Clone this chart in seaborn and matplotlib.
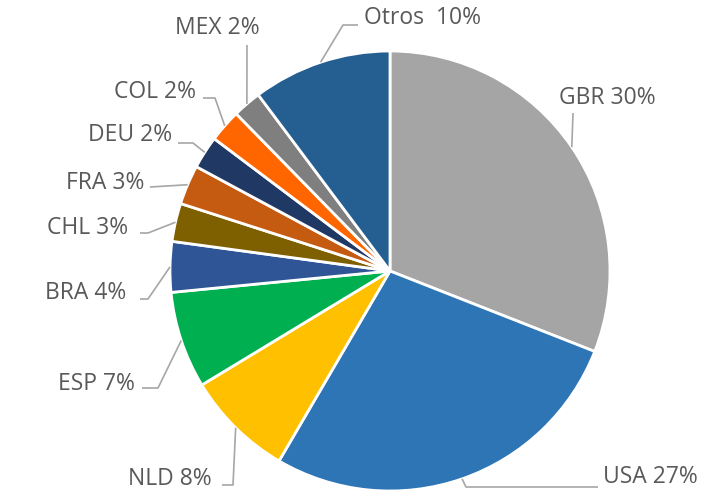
import numpy as np
import matplotlib
matplotlib.use("Agg")
import matplotlib.pyplot as plt
import seaborn as sns

# shares, clockwise from 12 o'clock
countries = ["GBR", "USA", "NLD", "ESP", "BRA", "CHL", "FRA", "DEU", "COL", "MEX", "Otros"]
shares = [30.9, 27.4, 7.9, 7.1, 3.7, 2.8, 2.9, 2.4, 2.4, 2.1, 10.2]
labels = ["GBR 30%", "USA 27%", "NLD 8%", "ESP 7%", "BRA 4%", "CHL 3%",
          "FRA 3%", "DEU 2%", "COL 2%", "MEX 2%", "Otros  10%"]
colors = ["#A5A5A5", "#2E75B6", "#FFC000", "#00B050", "#2F5597", "#7F6000",
          "#C55A11", "#203864", "#FF6600", "#7F7F7F", "#255E91"]

W, H = 702, 493

# label placement in pixel coords (y from top): text centre, leader bends
label_pos = {
    "GBR": (607, 98, [(573, 113)]),
    "USA": (650, 477, [(466, 487), (598, 487)]),
    "NLD": (170, 479, [(233, 485), (222, 485)]),
    "ESP": (96, 384, [(158, 388), (142, 388)]),
    "BRA": (86, 293, [(148, 299), (140, 299)]),
    "CHL": (88, 228, [(148, 233), (140, 233)]),
    "FRA": (105, 183, [(150, 187)]),
    "DEU": (130, 135, [(193, 143), (178, 143)]),
    "COL": (155, 92, [(215, 98), (203, 98)]),
    "MEX": (217, 28, [(247, 45)]),
    "Otros": (422, 18, [(343, 25), (358, 25)]),
}

sns.set_theme(style="white")
plt.rcParams['font.family'] = ['Open Sans', 'DejaVu Sans']

fig = plt.figure(figsize=(W / 100, H / 100), dpi=100)
ax = fig.add_axes([0, 0, 1, 1])

wedges, _ = ax.pie(shares, colors=sns.color_palette(colors), startangle=90,
                   counterclock=False, center=(390, H - 271), radius=220,
                   wedgeprops=dict(edgecolor="white", linewidth=2))

for w, c, lab in zip(wedges, countries, labels):
    tx, ty, bends = label_pos[c]
    mid = np.deg2rad((w.theta1 + w.theta2) / 2)
    ex = w.center[0] + w.r * np.cos(mid)
    ey = w.center[1] + w.r * np.sin(mid)
    xs = [ex] + [b[0] for b in bends]
    ys = [ey] + [H - b[1] for b in bends]
    ax.plot(xs, ys, color="#A6A6A6", lw=1.2, solid_capstyle="butt")
    ax.text(tx, H - ty, lab, ha="center", va="center", fontsize=16.5, color="#595959")

ax.set_xlim(0, W)
ax.set_ylim(0, H)
ax.set_aspect("equal")
ax.axis("off")

fig.savefig("out.png", dpi=100)
